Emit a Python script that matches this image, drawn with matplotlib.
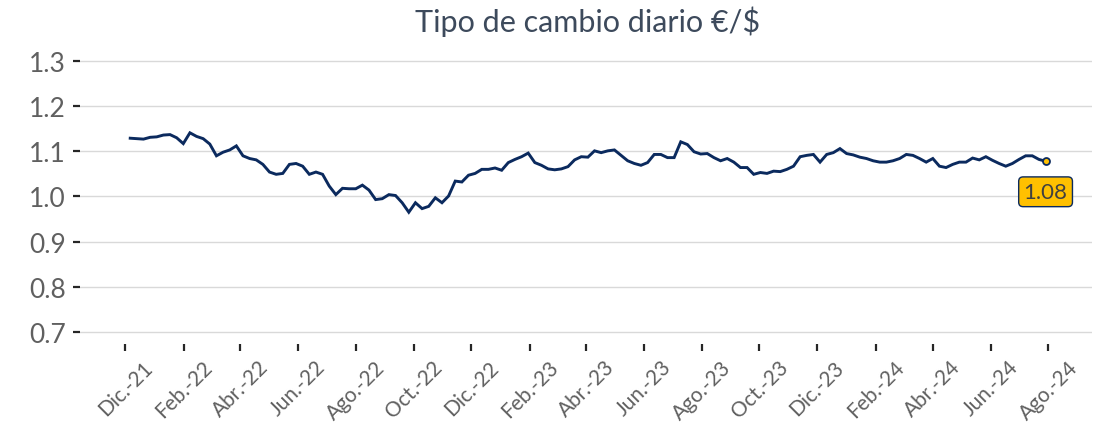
import matplotlib
matplotlib.use("Agg")
import matplotlib.pyplot as plt
import pandas as pd

# tipo de cambio €/$ (serie semanal desde el 6-dic-2021)
start_date = "2021-12-06"
eurusd = [
    1.129, 1.128, 1.127, 1.131, 1.132, 1.136, 1.137, 1.130, 1.117, 1.141,
    1.133, 1.128, 1.116, 1.090, 1.098, 1.103, 1.112, 1.090, 1.084, 1.081,
    1.071, 1.054, 1.049, 1.051, 1.071, 1.073, 1.067, 1.049, 1.054, 1.049,
    1.023, 1.004, 1.018, 1.017, 1.017, 1.025, 1.014, 0.993, 0.995, 1.004,
    1.002, 0.986, 0.965, 0.986, 0.973, 0.978, 0.997, 0.986, 1.001, 1.034,
    1.032, 1.047, 1.051, 1.060, 1.060, 1.063, 1.058, 1.075, 1.082, 1.088,
    1.096, 1.075, 1.069, 1.061, 1.059, 1.061, 1.066, 1.081, 1.088, 1.087,
    1.101, 1.097, 1.101, 1.103, 1.091, 1.079, 1.073, 1.069, 1.075, 1.093,
    1.093, 1.086, 1.086, 1.121, 1.115, 1.099, 1.094, 1.095, 1.086, 1.079,
    1.084, 1.076, 1.064, 1.064, 1.049, 1.053, 1.051, 1.056, 1.055, 1.060,
    1.067, 1.088, 1.091, 1.093, 1.076, 1.093, 1.097, 1.106, 1.095, 1.092,
    1.087, 1.084, 1.079, 1.076, 1.076, 1.079, 1.084, 1.093, 1.091, 1.084,
    1.076, 1.084, 1.067, 1.064, 1.071, 1.076, 1.076, 1.085, 1.081, 1.088,
    1.080, 1.073, 1.067, 1.073, 1.082, 1.090, 1.090, 1.082, 1.078,
]
dates = pd.date_range(start_date, periods=len(eurusd), freq="7D")

tick_dates = pd.date_range("2021-12-01", "2024-08-01", freq="2MS")
meses = {1: "Ene.", 2: "Feb.", 3: "Mar.", 4: "Abr.", 5: "May.", 6: "Jun.",
         7: "Jul.", 8: "Ago.", 9: "Sep.", 10: "Oct.", 11: "Nov.", 12: "Dic."}
tick_labels = [f"{meses[d.month]}-{d.strftime('%y')}" for d in tick_dates]
y_ticks = [0.7, 0.8, 0.9, 1.0, 1.1, 1.2, 1.3]

navy = "#0b2a5e"
gold = "#ffc000"
txt = "#606060"
plt.rcParams["font.family"] = ["Lato", "DejaVu Sans"]

fig = plt.figure(figsize=(11.04, 4.35), dpi=100)
ax = fig.add_axes([80 / 1104, 90 / 435, 1012 / 1104, 290 / 435])

ax.plot(dates, eurusd, color=navy, lw=2.1, solid_joinstyle="miter", zorder=3)
ax.plot(dates[-1], eurusd[-1], "o", ms=5, mfc=gold, mec=navy, mew=1.3, zorder=4)
ax.annotate(f"{eurusd[-1]:.2f}", (dates[-1], eurusd[-1]), xytext=(0, -22),
            textcoords="offset points", ha="center", va="center",
            fontsize=16, color="#404040",
            bbox=dict(boxstyle="round,pad=0.22,rounding_size=0.2",
                      fc=gold, ec=navy, lw=1))

ax.set_ylim(0.673, 1.3156)
ax.set_xlim(pd.Timestamp("2021-10-14"), pd.Timestamp("2024-09-16"))
ax.set_yticks(y_ticks)
ax.set_yticklabels([f"{v:.1f}" for v in y_ticks])
ax.set_xticks(tick_dates)
ax.set_xticklabels(tick_labels, rotation=45, ha="center")

ax.grid(axis="y", color="#d9d9d9", lw=1)
ax.set_axisbelow(True)
for s in ax.spines.values():
    s.set_visible(False)
ax.tick_params(axis="y", length=5, width=1.6, color="#262626", pad=5,
               labelsize=19, labelcolor=txt)
ax.tick_params(axis="x", length=5, width=1.6, color="#262626", pad=4,
               labelsize=15, labelcolor=txt)

fig.text(588 / 1104, 1 - 22 / 435, "Tipo de cambio diario €/$", ha="center",
         va="center", fontsize=22, color="#3d4a5c")

fig.savefig("out.png", dpi=100)
